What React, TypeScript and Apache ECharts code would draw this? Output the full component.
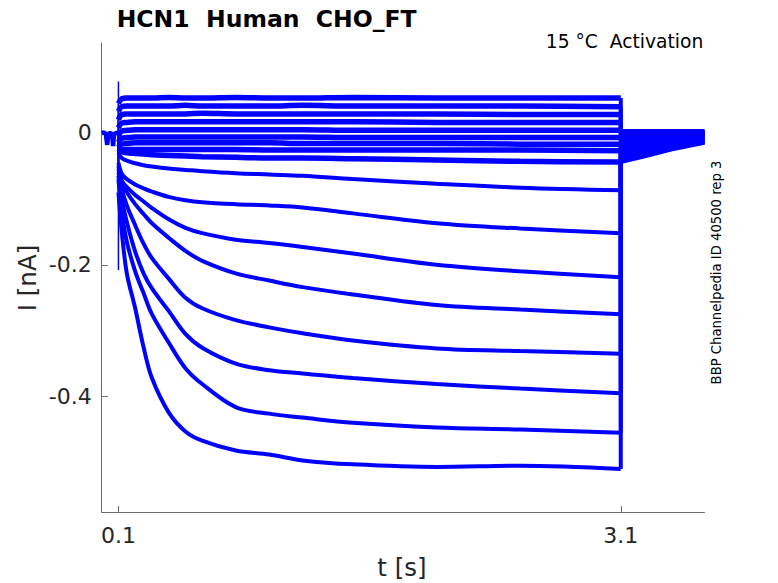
import React, { useEffect, useRef } from "react";
import * as echarts from "echarts";

// ---- axis ticks ----
const xTickValues = [0.1, 3.1];
const xTickLabels = ["0.1", "3.1"];
const yTickValues = [-0.4, -0.2, 0];
const yTickLabels = ["-0.4", "-0.2", "0"];

// ---- holding period before the step (shared by all sweeps) ----
const preTimes = [0, 0.015, 0.025, 0.033, 0.04, 0.055, 0.063, 0.068, 0.074, 0.085, 0.1];
const preValues = [0.0, 0.001, -0.002, -0.018, -0.001, 0.0, -0.003, -0.02, -0.002, 0.0, 0.0];

// ---- capacitive transient at step onset ----
const transientTimes = [0.1, 0.1];
const transientValues = [0.078, -0.208];

// ---- sample times: step (0.1..3.1 s) and tail (3.1..3.6 s) ----
const stepTimes = [0.1, 0.12, 0.15, 0.2, 0.25, 0.3, 0.4, 0.5, 0.6, 0.8, 1.0, 1.2, 1.5, 2.0, 2.5, 3.1];
const tailTimes = [3.1, 3.15, 3.25, 3.4, 3.6];

// ---- current (nA) of each sweep: 16 step samples then 5 tail samples ----
const trace01 = [0.045, 0.052, 0.053, 0.053, 0.053, 0.053, 0.054, 0.053, 0.053, 0.054, 0.053, 0.053, 0.054, 0.053, 0.053, 0.053, 0.003, 0.003, 0.003, 0.003, 0.003];
const trace02 = [0.033, 0.04, 0.041, 0.041, 0.041, 0.041, 0.041, 0.042, 0.041, 0.041, 0.041, 0.042, 0.041, 0.041, 0.041, 0.04, 0.001, 0.001, 0.001, 0.002, 0.002];
const trace03 = [0.02, 0.028, 0.029, 0.029, 0.029, 0.029, 0.029, 0.029, 0.03, 0.029, 0.029, 0.029, 0.029, 0.029, 0.028, 0.028, -0.001, -0.001, -0.001, 0.0, 0.001];
const trace04 = [0.008, 0.015, 0.016, 0.017, 0.017, 0.017, 0.017, 0.017, 0.017, 0.017, 0.017, 0.017, 0.017, 0.016, 0.016, 0.016, -0.003, -0.003, -0.002, -0.001, 0.0];
const trace05 = [-0.004, 0.003, 0.004, 0.005, 0.005, 0.005, 0.005, 0.005, 0.005, 0.005, 0.005, 0.005, 0.004, 0.004, 0.004, 0.004, -0.005, -0.005, -0.004, -0.003, -0.001];
const trace06 = [-0.014, -0.008, -0.007, -0.006, -0.006, -0.006, -0.006, -0.006, -0.006, -0.006, -0.006, -0.006, -0.007, -0.007, -0.007, -0.007, -0.007, -0.007, -0.006, -0.004, -0.002];
const trace07 = [-0.022, -0.017, -0.016, -0.015, -0.015, -0.015, -0.015, -0.015, -0.015, -0.015, -0.015, -0.016, -0.016, -0.016, -0.017, -0.017, -0.009, -0.009, -0.008, -0.006, -0.003];
const trace08 = [-0.03, -0.026, -0.025, -0.025, -0.025, -0.025, -0.025, -0.025, -0.025, -0.025, -0.026, -0.026, -0.026, -0.026, -0.026, -0.027, -0.011, -0.011, -0.01, -0.007, -0.004];
const trace09 = [-0.025, -0.028, -0.03, -0.031, -0.032, -0.033, -0.034, -0.035, -0.036, -0.037, -0.038, -0.038, -0.039, -0.041, -0.043, -0.044, -0.014, -0.013, -0.012, -0.009, -0.005];
const trace10 = [-0.03, -0.038, -0.042, -0.046, -0.049, -0.051, -0.054, -0.056, -0.058, -0.061, -0.063, -0.065, -0.07, -0.077, -0.083, -0.087, -0.017, -0.016, -0.014, -0.011, -0.006];
const trace11 = [-0.045, -0.062, -0.07, -0.078, -0.084, -0.089, -0.097, -0.102, -0.105, -0.108, -0.11, -0.113, -0.122, -0.137, -0.145, -0.152, -0.021, -0.019, -0.017, -0.013, -0.008];
const trace12 = [-0.05, -0.072, -0.082, -0.094, -0.104, -0.114, -0.131, -0.144, -0.152, -0.162, -0.167, -0.173, -0.183, -0.2, -0.21, -0.219, -0.025, -0.023, -0.02, -0.015, -0.009];
const trace13 = [-0.055, -0.075, -0.09, -0.108, -0.123, -0.137, -0.159, -0.179, -0.194, -0.213, -0.224, -0.234, -0.245, -0.261, -0.268, -0.275, -0.029, -0.027, -0.023, -0.017, -0.011];
const trace14 = [-0.06, -0.085, -0.11, -0.14, -0.168, -0.19, -0.221, -0.25, -0.266, -0.284, -0.295, -0.304, -0.315, -0.327, -0.331, -0.335, -0.033, -0.031, -0.026, -0.019, -0.012];
const trace15 = [-0.065, -0.1, -0.135, -0.18, -0.213, -0.236, -0.27, -0.305, -0.326, -0.35, -0.36, -0.365, -0.372, -0.381, -0.388, -0.395, -0.037, -0.035, -0.029, -0.021, -0.013];
const trace16 = [-0.07, -0.12, -0.165, -0.21, -0.243, -0.275, -0.318, -0.357, -0.381, -0.416, -0.426, -0.432, -0.44, -0.447, -0.45, -0.455, -0.04, -0.038, -0.032, -0.023, -0.014];
const trace17 = [-0.09, -0.15, -0.213, -0.266, -0.325, -0.372, -0.424, -0.453, -0.467, -0.482, -0.488, -0.497, -0.503, -0.507, -0.505, -0.51, -0.044, -0.041, -0.035, -0.025, -0.015];

const sweeps = [
  trace01, trace02, trace03, trace04, trace05, trace06, trace07, trace08, trace09,
  trace10, trace11, trace12, trace13, trace14, trace15, trace16, trace17,
];

const titleText = "HCN1  Human  CHO_FT";
const conditionText = "15 \u00b0C  Activation";
const sideText = "BBP Channelpedia ID 40500 rep 3";
const xName = "t [s]";
const yName = "I [nA]";

const BLUE = "#0000ff";
const FONT = "DejaVu Sans";

function tickLabel(values: number[], labels: string[], v: number): string {
  const i = values.findIndex((t) => Math.abs(t - v) < 1e-9);
  return i >= 0 ? labels[i] : "";
}

function buildOption(): any {
  const preEnd = preValues[preValues.length - 1];
  const preEndT = preTimes[preTimes.length - 1];
  const nStep = stepTimes.length;
  const series: any[] = [];
  series.push({
    type: "line",
    data: preTimes.map((t, k) => [t, preValues[k]]),
    symbol: "none",
    lineStyle: { color: BLUE, width: 4.5 },
    silent: true,
  });
  sweeps.forEach((vals, idx) => {
    const w = idx < 9 ? 5.5 : 4;
    const step = stepTimes.map((t, k) => [t, vals[k]]);
    const tail = tailTimes.map((t, k) => [t, vals[nStep + k]]);
    // onset jump
    series.push({
      type: "line",
      data: [[preEndT, preEnd], step[0]],
      symbol: "none",
      lineStyle: { color: BLUE, width: 1.5 },
      silent: true,
    });
    // step response
    series.push({
      type: "line",
      data: step,
      symbol: "none",
      smooth: 0.35,
      lineStyle: { color: BLUE, width: w },
      silent: true,
    });
    // offset jump and tail
    series.push({
      type: "line",
      data: [step[nStep - 1], ...tail],
      symbol: "none",
      lineStyle: { color: BLUE, width: 4 },
      silent: true,
    });
  });
  series.push({
    type: "line",
    data: transientTimes.map((t, k) => [t, transientValues[k]]),
    symbol: "none",
    lineStyle: { color: BLUE, width: 1.5 },
    silent: true,
  });

  const axisColor = "#6a6a6a";
  return {
    animation: false,
    backgroundColor: "#ffffff",
    grid: { left: 101.7, right: 73.5, top: 43, bottom: 71, containLabel: false },
    xAxis: {
      type: "value",
      min: 0,
      max: 3.6,
      axisLine: { show: true, onZero: false, lineStyle: { color: axisColor, width: 1 } },
      axisTick: { show: true, inside: true, length: 6, customValues: xTickValues, lineStyle: { color: axisColor } },
      axisLabel: {
        customValues: xTickValues,
        formatter: (v: number) => tickLabel(xTickValues, xTickLabels, v),
        fontSize: 22,
        fontFamily: FONT,
        color: "#262626",
        margin: 12,
      },
      splitLine: { show: false },
    },
    yAxis: {
      type: "value",
      min: -0.5753,
      max: 0.1366,
      axisLine: { show: true, onZero: false, lineStyle: { color: axisColor, width: 1 } },
      axisTick: { show: true, inside: true, length: 6, customValues: yTickValues, lineStyle: { color: axisColor } },
      axisLabel: {
        customValues: yTickValues,
        formatter: (v: number) => tickLabel(yTickValues, yTickLabels, v),
        fontSize: 22,
        fontFamily: FONT,
        color: "#262626",
        margin: 10,
      },
      splitLine: { show: false },
    },
    graphic: [
      {
        type: "text",
        x: 116.7,
        y: 18.5,
        style: { text: titleText, fontSize: 23.5, fontWeight: "bold", fontFamily: FONT, fill: "#000", align: "left", verticalAlign: "middle" },
      },
      {
        type: "text",
        x: 703.3,
        y: 41,
        style: { text: conditionText, fontSize: 18.7, fontFamily: FONT, fill: "#000", align: "right", verticalAlign: "middle" },
      },
      {
        type: "text",
        x: 716.2,
        y: 272.5,
        rotation: Math.PI / 2,
        style: { text: sideText, fontSize: 13.2, fontFamily: FONT, fill: "#000", align: "center", verticalAlign: "middle" },
      },
      {
        type: "text",
        x: 402,
        y: 567.5,
        style: { text: xName, fontSize: 24.5, fontFamily: FONT, fill: "#262626", align: "center", verticalAlign: "middle" },
      },
      {
        type: "text",
        x: 27.8,
        y: 278,
        rotation: Math.PI / 2,
        style: { text: yName, fontSize: 24.5, fontFamily: FONT, fill: "#262626", align: "center", verticalAlign: "middle" },
      },
    ],
    series,
  };
}

export default function App() {
  const ref = useRef<HTMLDivElement>(null);
  useEffect(() => {
    document.body.style.margin = "0";
    const chart = echarts.init(ref.current as HTMLDivElement, null, { renderer: "svg" });
    chart.setOption(buildOption());
    return () => chart.dispose();
  }, []);
  return <div ref={ref} style={{ width: 778, height: 583 }} />;
}
